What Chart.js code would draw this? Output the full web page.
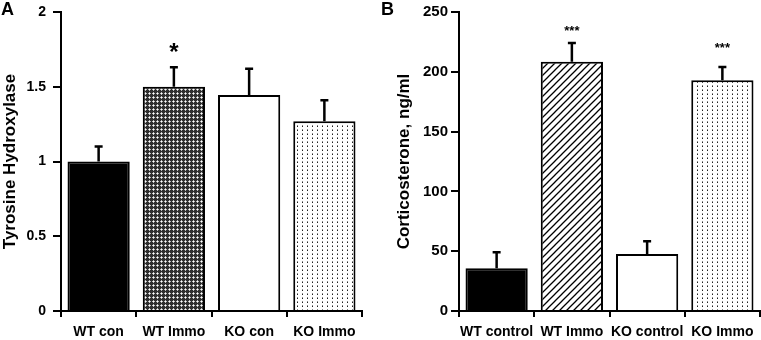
<!DOCTYPE html>
<html>
<head>
<meta charset="utf-8">
<script src="https://cdn.jsdelivr.net/npm/chart.js@4"></script>
<style>
    body { margin: 0; background: #fff; }
    #wrap { position: relative; width: 761px; height: 340px; overflow: hidden; }
    .panel { position: absolute; top: 0; height: 340px; }
    .letter { position: absolute; top: -1px; font: bold 18px "Liberation Sans", Arial, sans-serif; color: #000; }
</style>
</head>
<body>
<div id="wrap">
    <div class="panel" style="left:0;width:380px"><canvas id="chartA" width="380" height="340"></canvas></div>
    <div class="panel" style="left:380px;width:381px"><canvas id="chartB" width="381" height="340"></canvas></div>
    <div class="letter" style="left:1px">A</div>
    <div class="letter" style="left:381px">B</div>
</div>
<script>
// Panel A - tyrosine hydroxylase
var labelsA = ['WT con', 'WT Immo', 'KO con', 'KO Immo'];
var valuesA = [1.0, 1.5, 1.445, 1.27];
var errorsA = [0.1, 0.13, 0.175, 0.14];
var starsA = ['', '*', '', ''];
var starPosA = [null, 1.76, null, null];
var ticksA = [0, 0.5, 1, 1.5, 2];

// Panel B - corticosterone
var labelsB = ['WT control', 'WT Immo', 'KO control', 'KO Immo'];
var valuesB = [35.7, 208.5, 47.7, 193];
var errorsB = [13.5, 15.5, 10.6, 11];
var starsB = ['', '***', '', '***'];
var starPosB = [null, 236, null, 222];
var ticksB = [0, 50, 100, 150, 200, 250];

var FONT = '"Liberation Sans", Arial, sans-serif';

function makePattern(kind) {
    var c = document.createElement('canvas');
    var g = c.getContext('2d');
    if (kind === 'check') {
        c.width = 4; c.height = 4;
        g.fillStyle = '#2e2e2e';
        g.fillRect(0, 0, 4, 4);
        g.fillStyle = '#bdbdbd';
        g.fillRect(0, 1, 3, 1);
        g.fillRect(1, 0, 1, 3);
        g.fillStyle = '#ffffff';
        g.fillRect(1, 1, 1, 1);
    } else if (kind === 'dots') {
        c.width = 5; c.height = 4;
        g.fillStyle = '#ffffff';
        g.fillRect(0, 0, 5, 4);
        g.fillStyle = '#222';
        g.fillRect(2, 2, 1, 1);
        g.fillStyle = '#8a8a8a';
        g.fillRect(2, 1, 1, 1);
    } else if (kind === 'hatch') {
        c.width = 7; c.height = 7;
        g.fillStyle = '#ffffff';
        g.fillRect(0, 0, 7, 7);
        g.strokeStyle = '#000';
        g.lineWidth = 1.3;
        g.beginPath();
        g.moveTo(-1, 8); g.lineTo(8, -1);
        g.moveTo(-1, 1); g.lineTo(1, -1);
        g.moveTo(6, 8); g.lineTo(8, 6);
        g.stroke();
    }
    return g.createPattern(c, 'repeat');
}

// error bars (upper only) and significance stars
var errorBarPlugin = {
    id: 'errorBars',
    afterDatasetsDraw: function(chart, args, opts) {
        var ctx = chart.ctx;
        var y = chart.scales.y;
        var meta = chart.getDatasetMeta(0);
        ctx.save();
        ctx.strokeStyle = '#000';
        ctx.lineWidth = 2.5;
        meta.data.forEach(function(bar, i) {
            var top = y.getPixelForValue(opts.values[i]);
            var end = y.getPixelForValue(opts.values[i] + opts.errors[i]);
            ctx.beginPath();
            ctx.moveTo(bar.x, top);
            ctx.lineTo(bar.x, end);
            ctx.moveTo(bar.x - 4, end);
            ctx.lineTo(bar.x + 4, end);
            ctx.stroke();
            if (opts.stars[i]) {
                ctx.font = 'bold ' + opts.starSize + 'px ' + FONT;
                ctx.fillStyle = '#000';
                ctx.textAlign = 'center';
                ctx.textBaseline = 'alphabetic';
                var m = ctx.measureText(opts.stars[i]);
                var cy = y.getPixelForValue(opts.starPos[i]);
                ctx.fillText(opts.stars[i], bar.x, cy + (m.actualBoundingBoxAscent - m.actualBoundingBoxDescent) / 2);
            }
        });
        ctx.restore();
    }
};

function buildChart(id, cfg) {
    return new Chart(document.getElementById(id).getContext('2d'), {
        type: 'bar',
        data: {
            labels: cfg.labels,
            datasets: [{
                data: cfg.values,
                backgroundColor: cfg.fills,
                borderColor: '#000',
                borderWidth: 2,
                categoryPercentage: 1,
                barPercentage: 0.827
            }]
        },
        options: {
            responsive: false,
            animation: false,
            layout: { padding: { top: 12, right: cfg.padRight, bottom: 0, left: 0 } },
            plugins: {
                legend: { display: false },
                tooltip: { enabled: false },
                errorBars: { values: cfg.values, errors: cfg.errors, stars: cfg.stars, starPos: cfg.starPos, starSize: cfg.starSize }
            },
            scales: {
                x: {
                    grid: { display: true, drawOnChartArea: false, drawTicks: true, tickLength: 6, color: '#000', lineWidth: 2 },
                    border: { display: true, color: '#000', width: 2 },
                    ticks: { color: '#000', font: { family: FONT, size: 14, weight: 'bold' }, padding: 7, maxRotation: 0, autoSkip: false },
                    afterFit: function(scale) { scale.height = 29; }
                },
                y: {
                    min: 0,
                    max: cfg.ticks[cfg.ticks.length - 1],
                    afterBuildTicks: function(scale) {
                        scale.ticks = cfg.ticks.map(function(v) { return { value: v }; });
                    },
                    grid: { display: true, drawOnChartArea: false, drawTicks: true, tickLength: 8, color: '#000', lineWidth: 2 },
                    border: { display: true, color: '#000', width: 2 },
                    ticks: {
                        color: '#000',
                        font: { family: FONT, size: cfg.yTickSize, weight: 'bold' },
                        padding: cfg.tickPad,
                        callback: function(v) { return String(v); }
                    },
                    title: {
                        display: true,
                        text: cfg.title,
                        color: '#000',
                        font: { family: FONT, size: 17, weight: 'bold' },
                        padding: { top: cfg.titlePad, bottom: 0 }
                    },
                    afterFit: function(scale) {
                        scale.width = cfg.axisWidth;
                        scale.paddingTop = 0;
                        scale.paddingBottom = 0;
                    }
                }
            }
        },
        plugins: [errorBarPlugin]
    });
}

buildChart('chartA', {
    labels: labelsA, values: valuesA, errors: errorsA, stars: starsA, starPos: starPosA, ticks: ticksA,
    fills: ['#000', makePattern('check'), '#fff', makePattern('dots')],
    title: 'Tyrosine Hydroxylase', titlePad: 0, tickPad: 7, yTickSize: 14, axisWidth: 61, padRight: 18, starSize: 24
});

buildChart('chartB', {
    labels: labelsB, values: valuesB, errors: errorsB, stars: starsB, starPos: starPosB, ticks: ticksB,
    fills: ['#000', makePattern('hatch'), '#fff', makePattern('dots')],
    title: 'Corticosterone, ng/ml', titlePad: 14, tickPad: 3, yTickSize: 15, axisWidth: 79, padRight: 1, starSize: 13
});
</script>
</body>
</html>
